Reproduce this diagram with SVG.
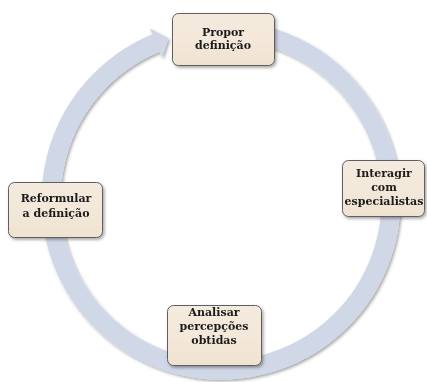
<svg xmlns="http://www.w3.org/2000/svg" width="427" height="382" viewBox="0 0 427 382">
  <defs>
    <filter id="shadow" x="-10%" y="-10%" width="130%" height="130%">
      <feDropShadow dx="1.5" dy="1.8" stdDeviation="1.4" flood-color="#000" flood-opacity="0.35"/>
    </filter>
    <linearGradient id="boxFill" x1="0" y1="0" x2="0" y2="1">
      <stop offset="0" stop-color="#f4eadd"/>
      <stop offset="0.5" stop-color="#f3e8da"/>
      <stop offset="1" stop-color="#efe2d0"/>
    </linearGradient>
    <style>
      .ring { fill: none; stroke: #d0d8e8; stroke-width: 19; }
      .head { fill: #d0d8e8; }
      .box { fill: url(#boxFill); stroke: #5f5f5f; stroke-width: 1; }
      .label { font-family: "DejaVu Serif", serif; font-weight: bold; font-size: 11px; fill: #1a1a1a; text-anchor: middle; }
    </style>
  </defs>

  <rect width="427" height="382" fill="#ffffff"/>

  <!-- cycle ring with arrowhead -->
  <g id="connectors" filter="url(#shadow)">
    <path class="ring" d="M 206.18 30.65 A 170 170 0 1 1 155.94 42.94"/>
    <polygon class="head" points="149.8,28.2 168.5,38.3 162.1,57.7"/>
  </g>

  <g id="node-propor" filter="url(#shadow)">
    <rect class="box" x="172.5" y="13.5" width="102" height="52" rx="6"/>
    <text class="label" x="223" y="36">Propor</text>
    <text class="label" x="223" y="49">definição</text>
  </g>

  <g id="node-interagir" filter="url(#shadow)">
    <rect class="box" x="342.5" y="160.5" width="82" height="56" rx="6"/>
    <text class="label" x="384" y="177">Interagir</text>
    <text class="label" x="384" y="191">com</text>
    <text class="label" x="384" y="205">especialistas</text>
  </g>

  <g id="node-reformular" filter="url(#shadow)">
    <rect class="box" x="8.5" y="182.5" width="94" height="55" rx="6"/>
    <text class="label" x="56" y="202">Reformular</text>
    <text class="label" x="56" y="217">a definição</text>
  </g>

  <g id="node-analisar" filter="url(#shadow)">
    <rect class="box" x="167.5" y="305.5" width="94" height="60" rx="6"/>
    <text class="label" x="214" y="316">Analisar</text>
    <text class="label" x="214" y="330">percepções</text>
    <text class="label" x="214" y="344">obtidas</text>
  </g>
</svg>
